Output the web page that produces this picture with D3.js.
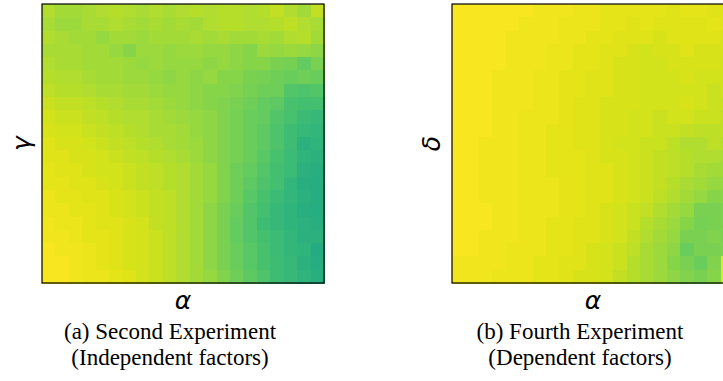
<!DOCTYPE html>
<html>
<head>
<meta charset="utf-8">
<script src="https://cdn.jsdelivr.net/npm/d3@7"></script>
<style>
  html, body { margin: 0; padding: 0; background: #ffffff; }
  svg { display: block; }
</style>
</head>
<body>
<svg id="chart" width="723" height="381"></svg>
<script>
// rows listed top (high) to bottom (low), columns left (low alpha) to right (high alpha)
const secondExperiment = [
  [0.88,0.86,0.86,0.87,0.88,0.89,0.88,0.87,0.88,0.87,0.88,0.89,0.88,0.89,0.89,0.88,0.89,0.91,0.88,0.86,0.91],
  [0.87,0.85,0.85,0.87,0.87,0.88,0.87,0.86,0.87,0.86,0.87,0.86,0.88,0.89,0.89,0.88,0.88,0.89,0.90,0.88,0.87],
  [0.88,0.87,0.86,0.86,0.84,0.86,0.86,0.85,0.86,0.86,0.86,0.87,0.86,0.87,0.86,0.86,0.87,0.86,0.88,0.89,0.86],
  [0.87,0.87,0.87,0.86,0.86,0.84,0.82,0.85,0.85,0.84,0.85,0.85,0.84,0.84,0.83,0.82,0.85,0.84,0.85,0.84,0.83],
  [0.88,0.87,0.87,0.86,0.86,0.86,0.85,0.84,0.85,0.84,0.84,0.84,0.83,0.84,0.83,0.82,0.82,0.80,0.79,0.76,0.80],
  [0.89,0.88,0.88,0.87,0.86,0.86,0.85,0.85,0.84,0.83,0.84,0.83,0.84,0.82,0.82,0.80,0.79,0.78,0.77,0.78,0.77],
  [0.90,0.89,0.89,0.88,0.87,0.87,0.86,0.86,0.85,0.84,0.84,0.83,0.82,0.82,0.81,0.79,0.78,0.78,0.73,0.72,0.73],
  [0.92,0.91,0.91,0.90,0.89,0.88,0.87,0.87,0.86,0.85,0.84,0.83,0.82,0.81,0.80,0.78,0.76,0.75,0.71,0.70,0.70],
  [0.93,0.92,0.92,0.91,0.90,0.89,0.88,0.88,0.87,0.86,0.85,0.84,0.83,0.81,0.79,0.77,0.76,0.73,0.71,0.68,0.67],
  [0.94,0.93,0.93,0.92,0.91,0.90,0.89,0.88,0.87,0.87,0.86,0.84,0.83,0.81,0.79,0.77,0.75,0.72,0.69,0.67,0.66],
  [0.95,0.94,0.94,0.93,0.92,0.91,0.90,0.89,0.88,0.87,0.86,0.85,0.83,0.81,0.79,0.77,0.75,0.72,0.69,0.64,0.65],
  [0.95,0.95,0.94,0.94,0.93,0.92,0.91,0.90,0.89,0.88,0.87,0.85,0.83,0.81,0.79,0.77,0.74,0.71,0.68,0.65,0.64],
  [0.96,0.95,0.95,0.94,0.93,0.93,0.92,0.91,0.90,0.89,0.88,0.86,0.84,0.81,0.78,0.76,0.73,0.70,0.68,0.64,0.63],
  [0.96,0.96,0.95,0.95,0.94,0.93,0.92,0.91,0.90,0.89,0.88,0.86,0.84,0.81,0.78,0.75,0.72,0.70,0.66,0.63,0.62],
  [0.97,0.96,0.96,0.95,0.95,0.94,0.93,0.92,0.91,0.90,0.88,0.86,0.84,0.81,0.78,0.74,0.71,0.68,0.66,0.64,0.62],
  [0.97,0.97,0.96,0.96,0.95,0.94,0.93,0.92,0.91,0.90,0.88,0.86,0.83,0.80,0.77,0.73,0.70,0.67,0.65,0.63,0.62],
  [0.98,0.97,0.97,0.96,0.95,0.95,0.94,0.93,0.91,0.90,0.88,0.86,0.83,0.80,0.76,0.73,0.69,0.67,0.65,0.64,0.63],
  [0.98,0.98,0.97,0.96,0.96,0.95,0.94,0.93,0.92,0.90,0.88,0.86,0.83,0.80,0.76,0.73,0.70,0.68,0.66,0.64,0.64],
  [0.99,0.98,0.98,0.97,0.96,0.95,0.94,0.93,0.92,0.90,0.88,0.86,0.83,0.80,0.77,0.74,0.71,0.68,0.66,0.65,0.61],
  [0.99,0.99,0.98,0.97,0.96,0.95,0.94,0.93,0.92,0.90,0.88,0.86,0.83,0.80,0.77,0.74,0.71,0.69,0.67,0.64,0.62],
  [0.99,0.99,0.98,0.97,0.97,0.96,0.95,0.93,0.92,0.90,0.88,0.86,0.84,0.81,0.78,0.75,0.72,0.69,0.67,0.65,0.63]
];

const fourthExperiment = [
  [0.99,0.99,0.99,0.99,0.99,0.99,0.98,0.98,0.98,0.97,0.97,0.96,0.96,0.96,0.96,0.96,0.95,0.96,0.96,0.95,0.95],
  [0.99,0.99,0.99,0.99,0.99,0.98,0.98,0.98,0.97,0.97,0.97,0.96,0.96,0.95,0.96,0.95,0.95,0.95,0.95,0.96,0.95],
  [0.99,0.99,0.99,0.99,0.98,0.98,0.98,0.98,0.97,0.97,0.96,0.96,0.95,0.95,0.95,0.94,0.95,0.95,0.95,0.95,0.94],
  [0.99,0.99,0.99,0.99,0.98,0.98,0.98,0.97,0.97,0.96,0.96,0.95,0.95,0.94,0.93,0.94,0.94,0.95,0.94,0.94,0.94],
  [0.99,0.99,0.99,0.99,0.98,0.98,0.98,0.97,0.97,0.96,0.96,0.95,0.94,0.94,0.93,0.93,0.94,0.94,0.94,0.94,0.93],
  [0.99,0.99,0.99,0.98,0.98,0.98,0.97,0.97,0.96,0.96,0.95,0.95,0.94,0.94,0.93,0.93,0.93,0.94,0.93,0.93,0.93],
  [0.99,0.99,0.99,0.98,0.98,0.98,0.97,0.97,0.96,0.96,0.95,0.95,0.94,0.94,0.93,0.93,0.93,0.93,0.93,0.92,0.93],
  [0.99,0.99,0.99,0.98,0.98,0.98,0.97,0.97,0.96,0.95,0.95,0.94,0.94,0.94,0.93,0.93,0.93,0.94,0.93,0.92,0.92],
  [0.99,0.99,0.99,0.98,0.98,0.97,0.97,0.97,0.96,0.95,0.95,0.94,0.94,0.93,0.93,0.92,0.93,0.93,0.92,0.92,0.91],
  [0.99,0.99,0.99,0.98,0.98,0.97,0.97,0.96,0.96,0.95,0.95,0.94,0.94,0.93,0.93,0.92,0.92,0.91,0.90,0.90,0.91],
  [0.99,0.99,0.98,0.98,0.98,0.97,0.97,0.96,0.96,0.95,0.95,0.94,0.93,0.93,0.92,0.92,0.90,0.88,0.88,0.90,0.89],
  [0.99,0.99,0.98,0.98,0.98,0.97,0.97,0.96,0.96,0.96,0.95,0.94,0.94,0.93,0.92,0.91,0.90,0.89,0.88,0.88,0.87],
  [0.99,0.99,0.98,0.98,0.98,0.97,0.97,0.96,0.96,0.96,0.95,0.95,0.94,0.93,0.92,0.91,0.90,0.89,0.87,0.86,0.86],
  [0.99,0.99,0.98,0.98,0.98,0.97,0.97,0.97,0.96,0.96,0.95,0.95,0.94,0.93,0.92,0.91,0.89,0.87,0.86,0.84,0.84],
  [0.99,0.99,0.98,0.98,0.98,0.97,0.97,0.97,0.96,0.96,0.95,0.95,0.94,0.93,0.92,0.90,0.88,0.86,0.84,0.82,0.83],
  [0.99,0.99,0.99,0.98,0.98,0.97,0.97,0.97,0.96,0.96,0.95,0.94,0.93,0.92,0.91,0.88,0.86,0.84,0.80,0.80,0.81],
  [0.99,0.99,0.99,0.98,0.98,0.97,0.97,0.96,0.96,0.95,0.95,0.94,0.93,0.92,0.89,0.87,0.85,0.82,0.79,0.80,0.81],
  [0.99,0.99,0.98,0.98,0.98,0.97,0.97,0.96,0.96,0.95,0.95,0.94,0.93,0.91,0.88,0.86,0.84,0.80,0.80,0.81,0.80],
  [0.99,0.99,0.98,0.98,0.97,0.97,0.97,0.96,0.96,0.95,0.94,0.93,0.92,0.90,0.87,0.85,0.83,0.77,0.80,0.80,0.81],
  [0.98,0.98,0.98,0.98,0.97,0.97,0.96,0.96,0.95,0.95,0.94,0.93,0.92,0.89,0.87,0.85,0.82,0.80,0.77,0.81,0.97],
  [0.98,0.98,0.98,0.97,0.97,0.97,0.96,0.96,0.95,0.94,0.94,0.93,0.91,0.89,0.87,0.85,0.83,0.81,0.80,0.82,0.97]
];

const panels = [
  { grid: secondExperiment, yLabel: 'γ', caption: ['(a) Second Experiment', '(Independent factors)'], left: 42 },
  { grid: fourthExperiment, yLabel: 'δ', caption: ['(b) Fourth Experiment', '(Dependent factors)'], left: 452 }
];

const svg = d3.select('#chart');
const size = { w: 282, h: 279, top: 4 };

// fixed colour range, values are read as viridis positions
const color = d3.scaleSequential(d3.interpolateViridis).domain([0, 1]);

panels.forEach(p => {
    const n = p.grid.length;
    const x = d3.scaleBand().domain(d3.range(n)).range([p.left, p.left + size.w]);
    const y = d3.scaleBand().domain(d3.range(n)).range([size.top, size.top + size.h]);

    const cells = [];
    p.grid.forEach((row, r) => row.forEach((v, c) => cells.push({ r, c, v })));

    const g = svg.append('g');

    g.selectAll('rect.cell')
        .data(cells)
        .enter()
        .append('rect')
        .attr('class', 'cell')
        .attr('x', d => x(d.c))
        .attr('y', d => y(d.r))
        .attr('width', x.bandwidth() + 0.5)
        .attr('height', y.bandwidth() + 0.5)
        .attr('fill', d => color(d.v))
        .attr('shape-rendering', 'crispEdges');

    // frame
    g.append('rect')
        .attr('x', p.left)
        .attr('y', size.top)
        .attr('width', size.w)
        .attr('height', size.h)
        .attr('fill', 'none')
        .attr('stroke', '#000')
        .attr('stroke-width', 1.2);

    const cx = p.left + size.w / 2;

    // x label
    g.append('text')
        .attr('x', cx)
        .attr('y', 309)
        .style('text-anchor', 'middle')
        .style('font-family', 'DejaVu Sans')
        .style('font-style', 'italic')
        .style('font-size', '25px')
        .text('α');

    // y label
    g.append('text')
        .attr('transform', `translate(${p.left - 12},${size.top + size.h / 2}) rotate(-90)`)
        .style('text-anchor', 'middle')
        .style('font-family', 'DejaVu Sans')
        .style('font-style', 'italic')
        .style('font-size', '25px')
        .text(p.yLabel);

    // caption
    p.caption.forEach((line, i) => {
        g.append('text')
            .attr('x', cx - 13)
            .attr('y', 339 + i * 26)
            .style('text-anchor', 'middle')
            .style('font-family', 'Liberation Serif')
            .style('font-size', '23px')
            .text(line);
    });
});
</script>
</body>
</html>
